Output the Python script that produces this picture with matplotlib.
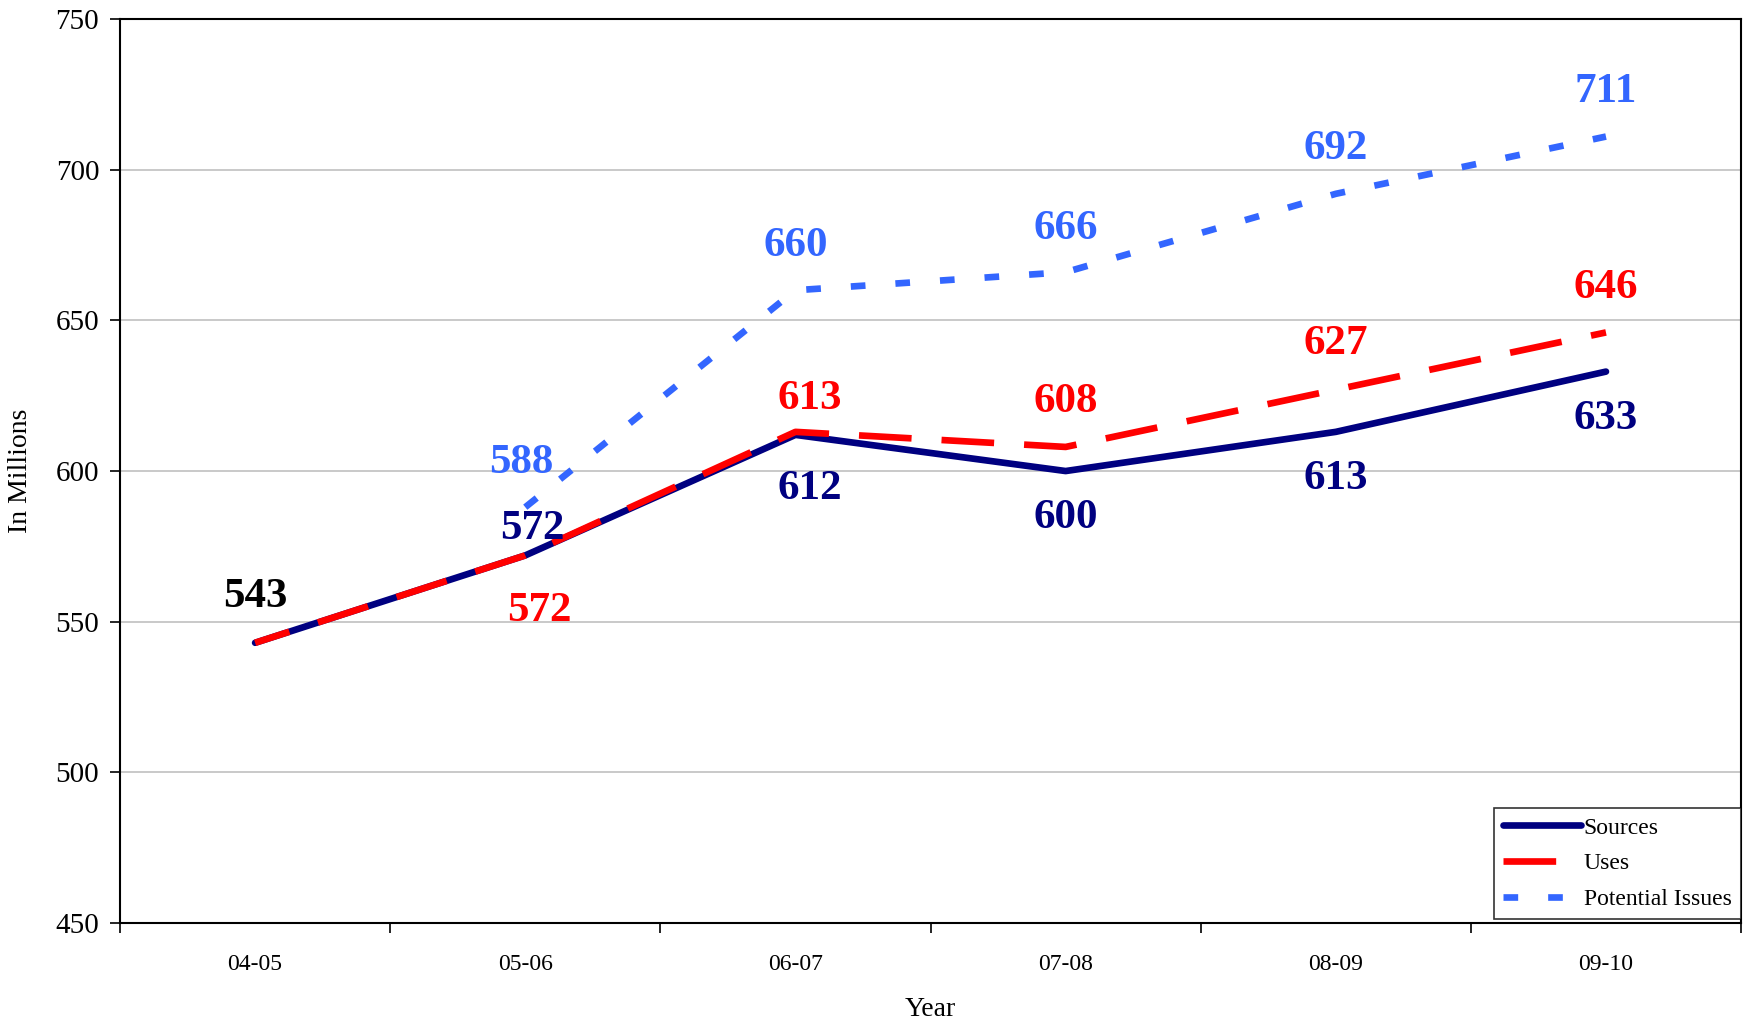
import matplotlib
matplotlib.use("Agg")
import matplotlib.pyplot as plt
import numpy as np

years = ["04-05", "05-06", "06-07", "07-08", "08-09", "09-10"]
sources = [543, 572, 612, 600, 613, 633]
uses = [543, 572, 613, 608, 627, 646]
potential_issues = [None, 588, 660, 666, 692, 711]

# label offsets in points (dx, dy) per series
src_off = [(0, 33), (5, 19), (10, -39), (0, -34), (0, -34), (0, -34)]
use_off = [(0, 33), (10, -40), (10, 24), (0, 32), (0, 33), (0, 32)]
pot_off = [None, (-3, 32), (0, 32), (0, 31), (0, 32), (0, 32)]

NAVY = "#000080"
RED = "#FF0000"
BLUE = "#3366FF"

plt.rcParams["font.family"] = ["Liberation Serif", "DejaVu Serif"]

fig = plt.figure(figsize=(17.47, 10.24), dpi=100)
ax = fig.add_axes([0.0687, 0.0986, 0.9279, 0.8828])

x = np.arange(len(years))
pot_x = [i for i, v in enumerate(potential_issues) if v is not None]
pot_y = [v for v in potential_issues if v is not None]

LW = 4.8
ax.plot(x, sources, color=NAVY, lw=LW, solid_capstyle="round", zorder=3, label="Sources")
ax.plot(x, uses, color=RED, lw=LW, linestyle=(2.5, (7.9, 4.5)), dash_capstyle="butt",
        zorder=4, label="Uses")
ax.plot(pot_x, pot_y, color=BLUE, lw=LW, dashes=(2.2, 4.5), dash_capstyle="butt", zorder=5,
        label="Potential Issues")

label_kw = dict(textcoords="offset points", ha="center", va="center",
                fontsize=31, fontweight="bold", zorder=6)

# first point shares a value for two series; drawn once in black
ax.annotate(str(sources[0]), (x[0], sources[0]), xytext=src_off[0], color="black", **label_kw)
for i in range(1, len(years)):
    ax.annotate(str(sources[i]), (x[i], sources[i]), xytext=src_off[i], color=NAVY, **label_kw)
    ax.annotate(str(uses[i]), (x[i], uses[i]), xytext=use_off[i], color=RED, **label_kw)
    if potential_issues[i] is not None:
        ax.annotate(str(potential_issues[i]), (x[i], potential_issues[i]), xytext=pot_off[i],
                    color=BLUE, **label_kw)

ax.set_xlim(-0.5, len(years) - 0.5)
ax.set_ylim(450, 750)
ax.set_yticks(np.arange(450, 751, 50))
ax.yaxis.grid(True, color="#C0C0C0", lw=1.2, zorder=0)
ax.set_axisbelow(True)

ax.set_xticks(np.arange(-0.5, len(years), 1.0))
ax.set_xticklabels([])
ax.set_xticks(x, minor=True)
ax.set_xticklabels(years, minor=True, fontsize=17)
ax.tick_params(axis="x", which="minor", length=0, pad=22)
ax.tick_params(axis="x", which="major", length=7, width=1.2, direction="out")
ax.tick_params(axis="y", labelsize=21, length=7, width=1.2, pad=8)

for s in ax.spines.values():
    s.set_linewidth(1.5)
    s.set_color("black")

ax.set_ylabel("In Millions", fontsize=20, labelpad=16)
ax.set_xlabel("Year", fontsize=20, labelpad=16)

leg = ax.legend(loc="lower right", bbox_to_anchor=(1.0, 0.004), fontsize=17, frameon=True,
                fancybox=False, edgecolor="black", handlelength=3.3, handletextpad=0.1,
                borderpad=0.4, labelspacing=0.6, borderaxespad=0)
leg.get_frame().set_linewidth(1.2)
leg.get_lines()[1].set_linestyle((0, (7.9, 4.5)))

fig.savefig("out.png", dpi=100, facecolor="white")
